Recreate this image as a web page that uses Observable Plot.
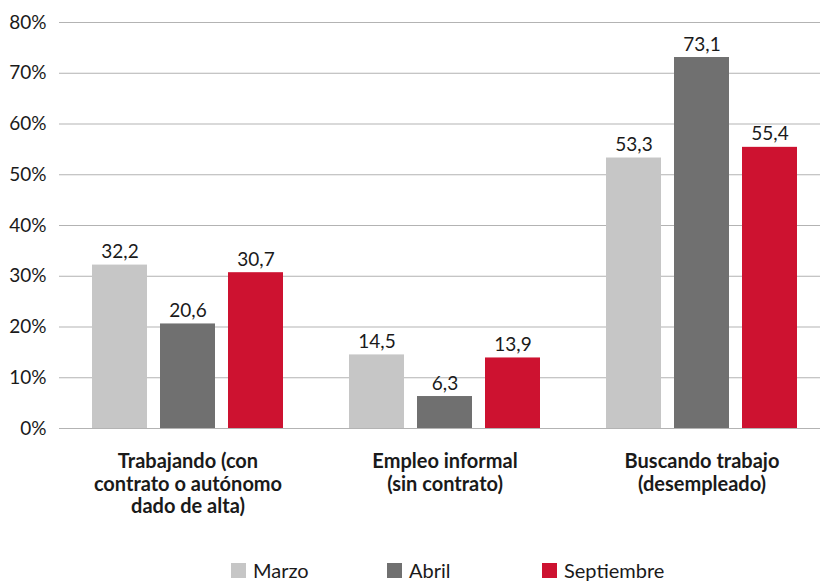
<!DOCTYPE html>
<html>
<head>
<meta charset="utf-8">
<script src="https://cdn.jsdelivr.net/npm/d3@7"></script>
<script src="https://cdn.jsdelivr.net/npm/@observablehq/plot@0.6"></script>
<style>
  body { margin: 0; background: #fff; font-family: Lato, sans-serif; overflow: hidden; }
  #legend { font-size: 20px; color: #1a1a1a; position: relative; height: 23px; }
  .item { position: absolute; top: 2px; display: flex; align-items: center; line-height: 20px; }
  .sw { width: 15px; height: 15px; margin-right: 7px; }
</style>
</head>
<body>
<div id="chart"></div>
<div id="legend"></div>
<script>
const groups = [
  "Trabajando (con\ncontrato o autónomo\ndado de alta)",
  "Empleo informal\n(sin contrato)",
  "Buscando trabajo\n(desempleado)"
];
const series = ["Marzo", "Abril", "Septiembre"];
const marzo = [32.2, 14.5, 53.3];
const abril = [20.6, 6.3, 73.1];
const septiembre = [30.7, 13.9, 55.4];
const colors = ["#c6c6c6", "#707070", "#cd1230"];
const yTicks = [0, 10, 20, 30, 40, 50, 60, 70, 80];

const valuesBySeries = [marzo, abril, septiembre];
const rows = [];
groups.forEach((g, i) => series.forEach((s, j) => rows.push({group: g, series: s, value: valuesBySeries[j][i]})));

const chart = Plot.plot({
  width: 820,
  height: 558,
  marginLeft: 58,
  marginRight: 5,
  marginTop: 22,
  marginBottom: 130,
  style: {fontFamily: "Lato, sans-serif", fontSize: "16px", color: "#1a1a1a", background: "#fff"},
  fx: {domain: groups, range: [58, 831], padding: 0},
  x: {domain: series, paddingInner: 0.197, paddingOuter: 0.48, axis: null},
  y: {domain: [0, 80]},
  color: {domain: series, range: colors},
  marks: [
    Plot.gridY(yTicks, {stroke: "#b3b3b3", strokeOpacity: 1, strokeWidth: 1}),
    Plot.axisY(yTicks, {tickSize: 0, tickPadding: 13, tickFormat: d => d + "%", fontSize: 19, label: null}),
    Plot.barY(rows, {fx: "group", x: "series", y: "value", fill: "series"}),
    Plot.text(rows, {fx: "group", x: "series", y: "value", text: d => d.value.toFixed(1).replace(".", ","), dy: -7, lineAnchor: "bottom", fontSize: 19, fill: "#1a1a1a"}),
    Plot.axisFx({anchor: "bottom", tickSize: 0, tickPadding: 24, lineAnchor: "top", lineHeight: 1.12, fontSize: 20, fontWeight: "bold", label: null})
  ]
});
document.getElementById("chart").appendChild(chart);

const legend = document.getElementById("legend");
const lx = [231, 387, 542];
series.forEach((s, i) => {
  const it = document.createElement("div");
  it.className = "item";
  it.style.left = lx[i] + "px";
  it.innerHTML = `<span class="sw" style="background:${colors[i]}"></span><span>${s}</span>`;
  legend.appendChild(it);
});
</script>
</body>
</html>
